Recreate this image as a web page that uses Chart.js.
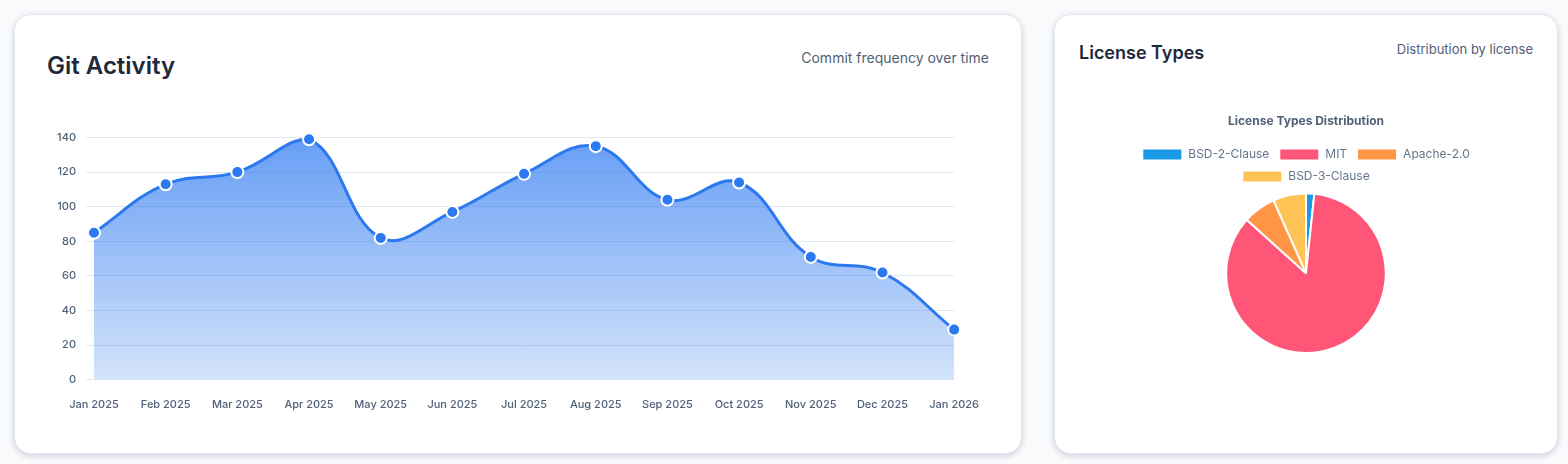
<!DOCTYPE html>
<html>
<head>
<meta charset="utf-8">
<title>Repository stats</title>
<script src="https://cdn.jsdelivr.net/npm/chart.js@4"></script>
<style>
  html, body { margin: 0; padding: 0; width: 1568px; height: 464px; overflow: hidden; background: #f8fafc; font-family: Inter, sans-serif; }
  .card { position: absolute; top: 14px; height: 440px; box-sizing: border-box; background: #fff; border: 1px solid #e2e8f0; border-radius: 17px; box-shadow: 0 2px 6px rgba(15, 23, 42, 0.18); }
  #git-card { left: 14px; width: 1008px; }
  #license-card { left: 1054px; width: 504px; }
  h2 { position: absolute; margin: 0; font-weight: 600; color: #1e293b; white-space: nowrap; }
  #git-card h2 { left: 32px; top: 35px; font-size: 24px; line-height: 32px; }
  #license-card h2 { left: 24px; top: 25px; font-size: 18px; line-height: 26px; }
  .sub { position: absolute; color: #506077; white-space: nowrap; }
  #git-card .sub { right: 32px; top: 33px; font-size: 14px; line-height: 20px; }
  #license-card .sub { right: 24px; top: 24px; font-size: 13px; line-height: 20px; }
  canvas { position: absolute; display: block; }
  #gitChart { left: 32px; top: 85px; }
  #licenseChart { left: 24px; top: 89px; }
</style>
</head>
<body>
<div class="card" id="git-card">
  <h2>Git Activity</h2>
  <div class="sub">Commit frequency over time</div>
  <canvas id="gitChart" width="942" height="321"></canvas>
</div>
<div class="card" id="license-card">
  <h2>License Types</h2>
  <div class="sub">Distribution by license</div>
  <canvas id="licenseChart" width="454" height="250"></canvas>
</div>
<script>
const months = ["Jan 2025", "Feb 2025", "Mar 2025", "Apr 2025", "May 2025", "Jun 2025", "Jul 2025", "Aug 2025", "Sep 2025", "Oct 2025", "Nov 2025", "Dec 2025", "Jan 2026"];
const commits = [85, 113, 120, 139, 82, 97, 119, 135, 104, 114, 71, 62, 29];

const licenseNames = ["BSD-2-Clause", "MIT", "Apache-2.0", "BSD-3-Clause"];
const licenseCounts = [1, 51, 4, 4];
const licenseColors = ["#1a9ae6", "#ff5678", "#ff9545", "#ffc355"];

Chart.defaults.font.family = "Inter, sans-serif";
Chart.defaults.animation = false;

// Blue fade under the line, needs the chart area so built at draw time
function areaGradient(context) {
  const area = context.chart.chartArea;
  if (!area) return "rgba(43, 120, 240, 0.7)";
  const gradient = context.chart.ctx.createLinearGradient(0, area.top, 0, area.bottom);
  gradient.addColorStop(0, "rgba(43, 120, 240, 0.72)");
  gradient.addColorStop(1, "rgba(43, 120, 240, 0.2)");
  return gradient;
}

new Chart(document.getElementById("gitChart"), {
  type: "line",
  data: {
    labels: months,
    datasets: [{
      data: commits,
      clip: false,
      borderColor: "#2b78f0",
      borderWidth: 3,
      backgroundColor: areaGradient,
      fill: true,
      tension: 0.4,
      pointRadius: 6,
      pointBackgroundColor: "#2b78f0",
      pointBorderColor: "#ffffff",
      pointBorderWidth: 2
    }]
  },
  options: {
    responsive: false,
    layout: { padding: { top: 37.5, right: 4 } },
    plugins: { legend: { display: false }, title: { display: false }, tooltip: { enabled: false } },
    scales: {
      x: {
        grid: { display: false },
        border: { display: false },
        ticks: { color: "#506077", padding: 10, maxRotation: 0, autoSkip: false, font: { size: 11, weight: "500" } }
      },
      y: {
        beginAtZero: true,
        max: 140,
        afterFit: scale => { scale.width = 47; },
        grid: { color: "#dfe7f0" },
        border: { display: false },
        ticks: { stepSize: 20, padding: 10, color: "#506077", font: { size: 11, weight: "500" } }
      }
    }
  }
});

new Chart(document.getElementById("licenseChart"), {
  type: "pie",
  data: {
    labels: licenseNames,
    datasets: [{
      data: licenseCounts,
      backgroundColor: licenseColors,
      borderColor: "#ffffff",
      borderWidth: 2
    }]
  },
  options: {
    responsive: false,
    plugins: {
      title: { display: true, text: "License Types Distribution", color: "#506077", font: { size: 12, weight: "700" } },
      legend: { position: "top", labels: { color: "#64748b", font: { size: 12 } } },
      tooltip: { enabled: false }
    }
  }
});
</script>
</body>
</html>
